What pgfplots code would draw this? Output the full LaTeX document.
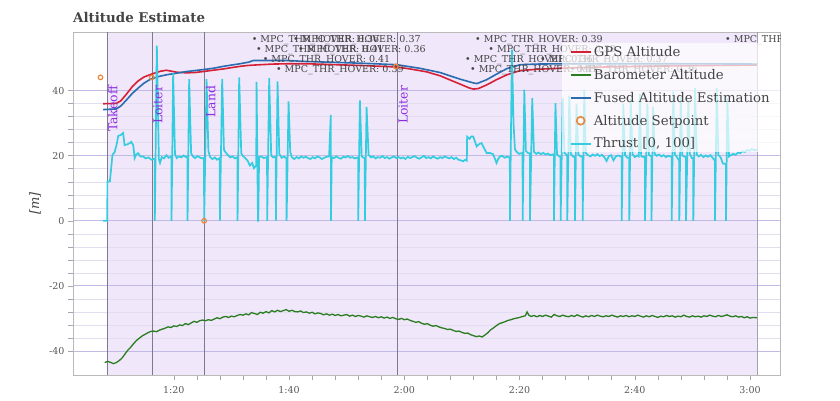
\documentclass[border=0pt]{standalone}
\usepackage{fontspec}
\setmainfont{DejaVu Serif}
\usepackage{pgfplots}
\pgfplotsset{compat=1.18}

\definecolor{gpsred}{RGB}{214,32,53}
\definecolor{barogreen}{RGB}{42,125,32}
\definecolor{fusedblue}{RGB}{43,108,176}
\definecolor{spor}{RGB}{232,136,58}
\definecolor{thrcyan}{RGB}{52,205,224}
\definecolor{modebg}{RGB}{240,231,250}
\definecolor{modeline}{RGB}{128,120,140}
\definecolor{modetext}{RGB}{140,45,225}
\definecolor{gridmaj}{RGB}{192,186,228}
\definecolor{gridmin}{RGB}{226,222,240}
\definecolor{txt}{RGB}{68,68,68}

\tikzset{
  annot/.style={anchor=west, inner sep=0pt, text=txt, font=\fontsize{9.5}{11}\selectfont},
  modelbl/.style={rotate=90, anchor=north east, inner sep=0.8pt, text=modetext,
    font=\fontsize{12.4}{14}\selectfont},
}
\pgfplotsset{
  linelegend/.style={legend image code/.code={\draw[##1, line width=2.2pt] (0pt,0pt) -- (20pt,0pt);}},
  spleg/.style={legend image code/.code={\draw[##1, mark size=4pt, line width=1.6pt] plot coordinates {(10pt,0pt)};}},
}

\begin{document}
\begin{tikzpicture}
\begin{axis}[
  set layers,
  scale only axis, width=707pt, height=343pt,
  xmin=62.5, xmax=185.2, ymin=-47.4, ymax=58.06,
  xtick={80,100,...,180}, xticklabels={1:20,1:40,2:00,2:20,2:40,3:00},
  minor x tick num=4,
  ytick={-40,-20,0,20,40}, minor y tick num=4,
  ymajorgrids, yminorgrids,
  major grid style={gridmaj, line width=0.8pt},
  minor grid style={gridmin, line width=0.6pt},
  xtick pos=bottom, ytick pos=left,
  tick align=outside, major tick length=5pt, minor tick length=5pt,
  tick style={gray!70, line width=0.6pt},
  axis line style={gray!55, line width=0.8pt},
  ticklabel style={font=\fontsize{9.5}{11}\selectfont, text=txt!90},
  xticklabel style={yshift=-3pt},
  /pgf/number format/assume math mode=true,
  title={\textbf{Altitude Estimate}},
  title style={at={(axis description cs:0,1)}, anchor=base west, yshift=3pt,
    font=\fontsize{13.4}{15}\selectfont, text=txt, inner sep=0pt},
  ylabel={\textit{[m]}},
  every axis y label/.style={at={(axis description cs:-0.0537,0.5)}, rotate=90,
    anchor=center, font=\fontsize{13}{15}\selectfont, text=txt},
  legend style={at={(1,1)}, anchor=north east, yshift=-11pt, draw=none, fill=white,
    fill opacity=0.7, text opacity=1, font=\fontsize{13.3}{15}\selectfont,
    text=txt, inner xsep=8pt, inner ysep=1pt, row sep=7.3pt},
  legend cell align=left,
  linelegend,
]

% flight mode background
\addplot[fill=modebg, draw=none, on layer=axis background, forget plot]
  coordinates {(68.4,-47.4) (181.3,-47.4) (181.3,58.06) (68.4,58.06)} -- cycle;

% mode change lines
\addplot[modeline, line width=0.9pt, forget plot] coordinates {(68.4,-47.4) (68.4,58.06)};
\addplot[modeline, line width=0.9pt, forget plot] coordinates {(76.27,-47.4) (76.27,58.06)};
\addplot[modeline, line width=0.9pt, forget plot] coordinates {(85.38,-47.4) (85.38,58.06)};
\addplot[modeline, line width=0.9pt, forget plot] coordinates {(118.8,-47.4) (118.8,58.06)};
\addplot[modeline!70, line width=0.9pt, forget plot] coordinates {(181.3,-47.4) (181.3,58.06)};

% GPS altitude
\addplot[gpsred, line width=1.6pt] table {
67.73 36.0
70.0 36.1
70.8 36.9
71.8 39.0
72.8 41.3
73.8 43.0
74.8 44.2
75.8 44.9
76.8 45.5
77.7 46.0
78.7 46.3
79.6 46.0
80.5 45.7
82.2 45.5
83.6 45.6
85.1 45.9
86.8 46.3
88.6 46.7
90.0 47.1
91.5 47.5
93.0 47.8
95.0 48.0
97.2 48.2
100.0 48.3
103.0 48.3
106.5 48.1
110.0 47.9
113.5 47.7
116.0 47.5
118.7 47.3
121.0 46.7
123.9 45.8
126.2 44.6
129.6 42.1
131.2 40.9
132.0 40.5
132.9 40.7
134.3 41.8
136.0 43.4
137.8 44.9
140.1 46.2
143.0 46.6
148.2 47.0
155.0 47.3
165.0 47.6
175.0 47.8
181.2 47.9
};
\addlegendentry{GPS Altitude}

% Barometer altitude
\addplot[barogreen, line width=1.3pt] table {
68.0 -43.6
68.5 -43.2
69.0 -43.5
69.5 -43.9
70.0 -43.6
70.5 -43.0
71.0 -42.2
71.5 -41.0
72.0 -39.8
72.5 -38.9
73.0 -37.8
73.5 -36.8
74.0 -36.1
74.5 -35.4
75.0 -34.9
75.5 -34.4
76.0 -34.0
76.5 -33.9
77.0 -34.1
77.5 -33.6
78.0 -33.3
78.5 -33.0
79.0 -32.6
79.5 -32.8
80.0 -32.3
80.5 -32.5
81.0 -32.0
81.5 -32.2
82.0 -31.6
82.5 -31.9
83.0 -31.4
83.5 -30.9
84.0 -31.2
84.5 -30.7
85.0 -30.5
85.5 -30.7
86.0 -30.4
86.5 -30.6
87.0 -30.2
87.5 -29.8
88.0 -30.1
88.5 -29.6
89.0 -29.4
89.5 -29.7
90.0 -29.3
90.5 -29.5
91.0 -29.1
91.5 -28.8
92.0 -29.0
92.5 -28.6
93.0 -28.9
93.5 -28.2
94.0 -28.5
94.5 -28.8
95.0 -28.1
95.5 -28.4
96.0 -27.9
96.5 -28.3
97.0 -27.6
97.5 -28.0
98.0 -27.5
98.5 -27.9
99.0 -27.6
99.5 -27.3
100.0 -27.8
100.5 -27.5
101.0 -27.9
101.5 -28.0
102.0 -27.7
102.5 -28.2
103.0 -28.0
103.5 -28.4
104.0 -28.1
104.5 -28.6
105.0 -28.3
105.5 -28.5
106.0 -28.9
106.5 -28.6
107.0 -29.0
107.5 -28.7
108.0 -29.1
108.5 -28.8
109.0 -29.2
109.5 -29.0
110.0 -28.8
110.5 -29.3
111.0 -29.0
111.5 -29.4
112.0 -29.1
112.5 -29.3
113.0 -29.6
113.5 -29.2
114.0 -29.5
114.5 -29.7
115.0 -29.4
115.5 -29.8
116.0 -29.5
116.5 -29.9
117.0 -29.6
117.5 -30.0
118.0 -29.7
118.5 -30.1
119.0 -30.3
119.5 -30.0
120.0 -30.4
120.5 -30.2
121.0 -30.6
121.5 -30.9
122.0 -31.2
122.5 -31.0
123.0 -31.5
123.5 -31.8
124.0 -31.6
124.5 -32.1
125.0 -32.4
125.5 -32.2
126.0 -32.6
126.5 -32.9
127.0 -33.1
127.5 -33.4
128.0 -33.3
128.5 -33.7
129.0 -34.0
129.5 -33.9
130.0 -34.3
130.5 -34.6
131.0 -34.5
131.5 -35.0
132.0 -35.3
132.5 -35.6
133.0 -35.4
133.5 -35.7
134.0 -35.1
134.5 -34.4
135.0 -33.5
135.5 -32.9
136.0 -32.2
136.5 -31.6
137.0 -31.3
137.5 -31.0
138.0 -30.6
138.5 -30.4
139.0 -30.1
139.5 -29.9
140.0 -29.7
140.5 -29.4
141.0 -29.2
141.3 -28.0
141.6 -29.0
142.0 -29.4
142.5 -29.1
143.0 -29.5
143.5 -29.1
144.0 -29.4
144.5 -29.0
145.0 -29.3
145.5 -29.6
146.0 -28.8
146.5 -29.2
147.0 -29.4
147.5 -29.0
148.0 -29.3
148.5 -29.5
149.0 -29.1
149.5 -29.4
150.0 -28.9
150.5 -29.3
151.0 -29.6
151.5 -29.2
152.0 -29.5
152.5 -29.1
153.0 -29.4
153.5 -29.0
154.0 -29.3
154.5 -29.5
155.0 -29.2
155.5 -29.4
156.0 -29.0
156.5 -29.3
157.0 -29.6
157.5 -29.2
158.0 -29.4
158.5 -29.1
159.0 -29.5
159.5 -29.2
160.0 -29.4
160.5 -29.0
161.0 -29.3
161.5 -29.6
162.0 -29.2
162.5 -29.5
163.0 -29.1
163.5 -29.4
164.0 -29.7
164.5 -29.3
165.0 -29.5
165.5 -29.1
166.0 -29.4
166.5 -29.2
167.0 -29.6
167.5 -29.3
168.0 -29.5
168.5 -29.0
169.0 -29.4
169.5 -29.6
170.0 -29.2
170.5 -29.5
171.0 -29.3
171.5 -29.6
172.0 -29.2
172.5 -29.4
173.0 -29.0
173.5 -29.3
174.0 -29.5
174.5 -29.1
175.0 -29.4
175.5 -29.2
176.0 -28.9
176.5 -29.3
177.0 -29.5
177.5 -29.2
178.0 -29.6
178.5 -29.4
179.0 -29.8
179.5 -29.5
180.0 -29.9
180.5 -29.7
181.2 -29.8
};
\addlegendentry{Barometer Altitude}

% Fused altitude estimation
\addplot[fusedblue, line width=1.6pt] table {
67.73 34.2
70.0 34.4
70.8 35.3
71.8 37.2
72.8 39.2
73.8 40.8
74.8 42.3
75.8 43.4
77.2 44.3
78.7 44.9
80.5 45.4
82.2 45.9
85.1 46.5
86.8 46.9
88.6 47.5
90.0 47.9
91.5 48.3
93.0 48.8
93.8 49.3
96.5 49.3
99.6 49.3
103.0 49.0
106.5 48.8
110.0 48.6
113.5 48.4
118.7 48.0
122.7 46.9
126.2 45.6
129.6 43.6
132.0 42.4
132.6 42.2
134.3 43.4
136.0 45.1
137.8 46.8
140.1 48.0
143.0 48.2
148.2 48.3
165.0 48.3
181.2 48.2
};
\addlegendentry{Fused Altitude Estimation}

% Thrust [0, 100]
\addplot[thrcyan, line width=1.7pt, forget plot] table {
67.73 0
68.45 0
68.47 12.1
68.9 12.1
69.35 20.3
69.7 21.0
70.05 23.3
70.35 26.1
70.8 26.4
71.2 27.0
71.45 23.3
71.9 23.5
72.35 23.9
72.6 24.3
72.95 23.3
73.2 19.3
73.5 20.5
73.8 20.8
74.2 19.8
74.67 19.8
75.1 19.2
75.6 19.5
76.1 18.8
76.5 19.0
76.68 19.0
76.7 0
77.05 53.9
77.4 19.0
77.6 17.8
77.9 19.6
78.3 19.2
78.7 20.2
79.1 19.4
79.58 19.8
79.6 0
79.88 45.4
80.2 20.5
80.5 19.3
80.9 19.8
81.3 19.5
81.7 20.1
82.1 19.6
82.36 19.8
82.38 0
82.66 43.6
83.0 20.8
83.3 19.8
83.7 19.3
84.1 19.9
84.5 19.5
84.9 19.2
85.24 19.4
85.26 0
85.68 43.6
86.0 21.5
86.3 19.6
86.7 19.0
87.1 19.5
87.5 18.8
87.97 19.3
87.99 0
88.39 43.6
88.7 21.8
89.0 21.0
89.4 20.2
89.8 19.5
90.2 19.8
90.6 19.2
91.04 19.6
91.06 0
91.34 44.1
91.7 20.8
92.0 19.9
92.4 19.3
92.8 18.5
93.2 17.0
93.6 17.8
93.9 16.2
94.3 17.0
94.36 42.7
94.6 0
94.65 0
94.8 19.6
95.2 19.8
95.6 19.3
96.18 19.6
96.2 0
96.55 43.9
96.9 20.1
97.2 19.5
97.69 19.7
97.71 0
98.0 42.9
98.3 20.6
98.7 19.4
99.1 19.7
99.55 19.3
99.57 0
99.91 36.7
100.2 21.2
100.5 19.5
100.9 19.0
101.3 19.6
101.7 19.2
102.1 19.8
102.5 19.4
102.9 19.7
103.3 19.3
103.7 19.0
104.1 19.6
104.5 19.2
104.9 19.8
105.3 19.5
105.7 19.0
106.1 19.4
106.5 19.7
106.95 19.8
107.24 32.6
107.27 0
107.4 19.6
107.8 19.3
108.2 19.8
108.6 19.4
109.0 19.1
109.4 19.7
109.8 19.5
110.2 19.9
110.6 19.4
111.0 19.6
111.4 19.2
111.98 19.5
112.0 0
112.29 37.0
112.6 19.8
112.9 19.4
113.14 19.4
113.16 0
113.45 35.0
113.8 20.3
114.2 19.5
114.6 19.8
115.0 19.2
115.4 19.6
115.8 19.4
116.2 19.9
116.6 19.3
117.0 19.6
117.4 19.1
117.8 19.5
118.2 19.8
118.6 19.3
119.0 19.6
119.4 19.2
119.8 19.5
120.2 19.0
120.6 19.7
121.0 19.3
121.4 19.6
121.8 19.9
122.2 19.4
122.6 19.1
123.0 19.5
123.4 20.0
123.8 19.3
124.2 19.6
124.6 19.2
125.0 19.8
125.4 19.4
125.8 19.1
126.2 19.6
126.6 19.3
127.0 19.8
127.4 19.5
127.8 19.2
128.2 19.6
128.6 19.0
129.0 19.4
129.4 18.8
129.8 18.6
130.2 18.3
130.6 18.8
130.85 18.5
130.9 25.9
131.3 25.2
131.6 25.9
131.96 25.9
132.3 24.2
132.55 22.9
133.0 23.6
133.4 23.9
133.8 22.5
134.3 20.8
134.8 20.9
135.4 20.5
135.7 19.2
136.0 17.8
136.3 19.0
136.6 19.8
137.0 20.0
137.4 19.4
137.8 19.7
138.31 19.5
138.33 0
138.68 52.6
138.95 30.0
139.2 22.0
139.5 21.2
139.9 20.6
140.52 20.9
140.54 0
140.82 40.3
141.1 21.5
141.5 20.8
141.79 20.8
141.81 0
142.2 37.7
142.5 21.2
142.9 20.6
143.3 21.0
143.7 20.5
144.1 20.9
144.5 20.4
144.9 20.7
145.3 20.2
145.95 20.5
145.97 0
146.23 36.2
146.5 20.4
146.9 19.8
147.11 19.8
147.13 0
147.48 37.7
147.8 20.9
148.26 20.0
148.28 0
148.63 38.5
148.9 20.6
149.3 19.7
149.6 19.7
149.62 0
149.88 36.0
150.2 20.4
150.6 19.8
150.93 19.8
150.95 0
151.23 40.3
151.5 20.8
151.9 20.2
152.3 19.8
152.7 20.4
153.1 20.0
153.5 20.5
153.9 19.9
154.3 20.3
154.7 19.6
155.1 18.4
155.5 19.9
155.9 20.2
156.3 18.6
156.7 19.8
157.1 20.1
157.71 19.7
157.73 0
158.0 36.0
158.3 20.2
158.7 19.4
159.03 19.4
159.05 0
159.29 37.5
159.6 20.5
160.0 19.6
160.4 20.1
160.7 19.8
160.9 39.0
161.1 19.9
161.5 19.6
161.75 19.6
161.77 0
162.17 36.0
162.45 20.3
162.88 19.8
162.9 0
163.16 35.0
163.45 20.6
163.8 20.0
164.2 20.4
164.6 19.8
165.0 20.2
165.4 19.6
165.8 20.0
166.39 19.7
166.41 0
166.68 39.8
166.95 20.5
167.3 19.6
167.71 18.5
167.73 0
167.97 38.0
168.25 20.1
168.87 19.5
168.89 0
169.29 37.0
169.55 20.6
169.9 19.3
170.14 19.3
170.16 0
170.45 40.8
170.75 20.4
171.1 19.8
171.5 20.3
171.9 19.6
172.3 20.1
172.7 19.7
173.1 20.2
173.5 19.4
173.9 18.5
173.92 0
174.22 40.8
174.5 20.2
174.9 19.5
175.3 17.6
175.81 17.5
175.83 0
176.06 37.8
176.35 19.8
176.7 20.2
177.1 20.6
177.5 20.3
177.9 21.0
178.3 20.8
178.7 21.4
179.1 21.2
179.5 21.8
179.9 21.5
180.3 22.1
180.7 21.7
181.2 21.9
};

% Altitude setpoint
\addplot[only marks, mark=o, mark size=2.3pt, spor, line width=1.2pt, spleg]
  coordinates {(67.27,44.1) (76.18,44.1) (85.26,0) (118.54,47.5)};
\addlegendentry{Altitude Setpoint}

\addlegendimage{thrcyan}
\addlegendentry{Thrust [0, 100]}

% flight mode labels
\node[modelbl] at (axis cs:68.4,41.8) {Takeoff};
\node[modelbl] at (axis cs:76.27,41.8) {Loiter};
\node[modelbl] at (axis cs:85.38,41.8) {Land};
\node[modelbl] at (axis cs:118.8,41.8) {Loiter};

% parameter change annotations, clipped to the plot area
\begin{scope}
\clip (rel axis cs:0,0) rectangle (rel axis cs:1,1);
\node[annot] at (axis cs:93.49,55.7) {• MPC\_THR\_HOVER: 0.36};
\node[annot] at (axis cs:100.66,55.7) {• MPC\_THR\_HOVER: 0.37};
\node[annot] at (axis cs:94.24,52.6) {• MPC\_THR\_HOVER: 0.41};
\node[annot] at (axis cs:101.53,52.6) {• MPC\_THR\_HOVER: 0.36};
\node[annot] at (axis cs:95.40,49.5) {• MPC\_THR\_HOVER: 0.41};
\node[annot] at (axis cs:97.71,46.2) {• MPC\_THR\_HOVER: 0.39};
\node[annot] at (axis cs:132.26,55.7) {• MPC\_THR\_HOVER: 0.39};
\node[annot] at (axis cs:134.57,52.6) {• MPC\_THR\_HOVER: 0.38};
\node[annot] at (axis cs:130.52,49.5) {• MPC\_THR\_HOVER: 0.36};
\node[annot] at (axis cs:143.54,49.5) {• MPC\_THR\_HOVER: 0.37};
\node[annot] at (axis cs:131.39,46.2) {• MPC\_THR\_HOVER: 0.41};
\node[annot] at (axis cs:148.75,46.2) {• MPC\_THR\_HOVER: 0.36};
\node[annot] at (axis cs:175.66,55.7) {• MPC\_THR\_HOVER: 0.39};
\end{scope}

\end{axis}
\pgfresetboundingbox
\path[use as bounding box] (-73pt,-25pt) rectangle (767pt,375pt);
\end{tikzpicture}
\end{document}
